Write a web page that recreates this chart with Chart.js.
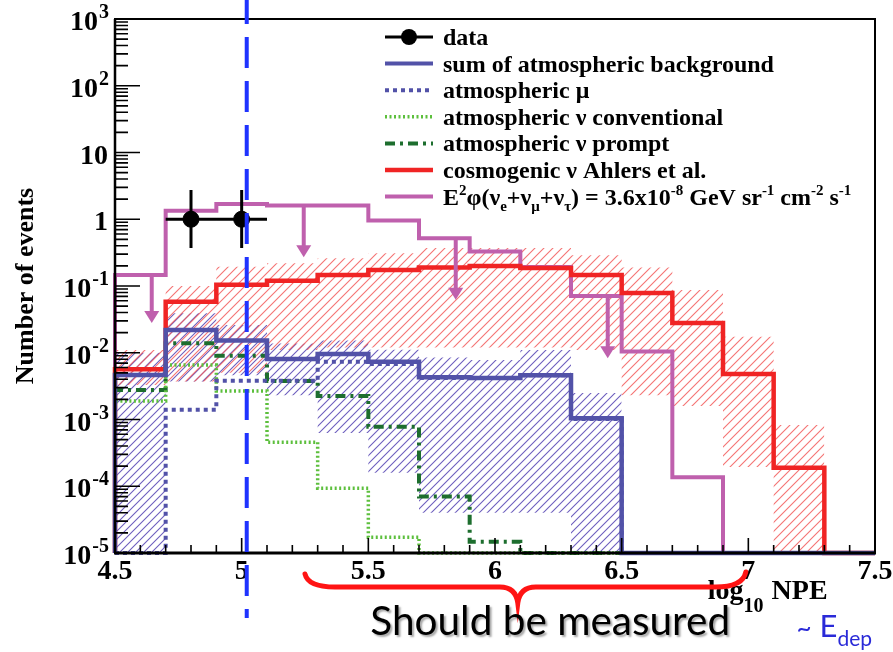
<!DOCTYPE html>
<html>
<head>
<meta charset="utf-8">
<title>Number of events vs log10 NPE</title>
<script src="https://cdn.jsdelivr.net/npm/chart.js@4.4.1/dist/chart.umd.min.js"></script>
<style>
  html, body { margin: 0; padding: 0; background: #ffffff; }
  canvas { display: block; }
</style>
</head>
<body>
<canvas id="npe" width="893" height="652"></canvas>
<script>
// ---- Histogram binning (log10 NPE) ----
const binEdges = [4.5, 4.7, 4.9, 5.1, 5.3, 5.5, 5.7, 5.9, 6.1, 6.3, 6.5, 6.7, 6.9, 7.1, 7.3, 7.5];

// ---- Expected events per bin (0 = empty bin, null = no band) ----
const signalFlux   = [0.146, 1.34, 1.69, 1.61, 1.61, 0.96, 0.52, 0.33, 0.193, 0.071, 0.0104, 1.36e-4, 0, 0, 0];
const cosmogenic   = [0.00565, 0.058, 0.104, 0.12, 0.146, 0.174, 0.19, 0.2, 0.186, 0.146, 0.0785, 0.028, 0.0048, 1.9e-4, 0];
const cosmoLow     = [0.0033, 0.0037, 0.005, 0.011, 0.012, 0.012, 0.012, 0.012, 0.012, 0.011, 0.0023, 0.0016, 1.95e-4, 0, null];
const cosmoHigh    = [0.011, 0.10, 0.195, 0.22, 0.26, 0.31, 0.37, 0.37, 0.37, 0.29, 0.19, 0.087, 0.0174, 8.3e-4, null];
const bgSum        = [0.00464, 0.0219, 0.0152, 0.00806, 0.00957, 0.00735, 0.0043, 0.0042, 0.0046, 0.00104, 0, 0, 0, 0, 0];
const bgLow        = [0, 0.0037, 0.0046, 0.0023, 6.3e-4, 1.6e-4, 4e-5, 4e-5, 4e-5, 0, null, null, null, null, null];
const bgHigh       = [0.01, 0.039, 0.026, 0.0137, 0.0152, 0.0111, 0.0085, 0.0078, 0.011, 0.0025, null, null, null, null, null];
const atmMuon      = [0, 0.0014, 0.0038, 0.0038, 0.0073, 0.0068, 0.0042, 0.0042, 0.0046, 0.00102, 0, 0, 0, 0, 0];
const atmNuConv    = [0.0019, 0.00655, 0.00267, 4.55e-4, 9.3e-5, 1.72e-5, 0, 0, 0, 0, 0, 0, 0, 0, 0];
const atmNuPrompt  = [0.00277, 0.0139, 0.00904, 0.00377, 0.00225, 7.8e-4, 7e-5, 1.48e-5, 0, 0, 0, 0, 0, 0, 0];

// ---- Observed events (Feldman-Cousins 68% intervals) ----
const dataX     = [4.8, 5.0];
const dataXErr  = [0.1, 0.1];
const dataY     = [1, 1];
const dataYLow  = [0.37, 0.37];
const dataYHigh = [2.75, 2.75];

// ---- Upper-limit arrows on the E^2 flux histogram ----
const arrowX    = [4.645, 5.245, 5.845, 6.445];
const arrowFrom = [0.146, 1.61, 0.52, 0.071];
const arrowTo   = [0.028, 0.27, 0.062, 0.0083];

// ---- Axis ranges and tick labels ----
const X_MIN = 4.5, X_MAX = 7.5;
const Y_MIN = 1e-5, Y_MAX = 1e3;
const xTickLabels = ['4.5', '5', '5.5', '6', '6.5', '7', '7.5'];
const yTickExponents = [-5, -4, -3, -2, -1, 0, 1, 2, 3];

// ---- Annotations ----
const thresholdNPE = 5.02;
const braceFrom = 5.25, braceTip = 6.09, braceTo = 6.99;
const braceText = 'Should be measured';

// ---- Legend text ----
const legendLabels = [
  'data',
  'sum of atmospheric background',
  'atmospheric \u03bc',
  'atmospheric \u03bd conventional',
  'atmospheric \u03bd prompt',
  'cosmogenic \u03bd Ahlers et al.'
];
// text runs: [text, 0 = normal, 1 = superscript, -1 = subscript]
const fluxLabelRuns = [
  ['E', 0], ['2', 1], ['\u03c6(\u03bd', 0], ['e', -1], ['+\u03bd', 0], ['\u03bc', -1], ['+\u03bd', 0], ['\u03c4', -1],
  [') = 3.6x10', 0], ['-8', 1], [' GeV sr', 0], ['-1', 1], [' cm', 0], ['-2', 1], [' s', 0], ['-1', 1]
];

// ---- Colours ----
const COL_SIGNAL = '#bf60ad';
const COL_COSMO  = '#f02424';
const COL_BG     = '#5252a8';
const COL_CONV   = '#5cbf3c';
const COL_PROMPT = '#1d6e2e';

const canvas = document.getElementById('npe');
const mainCtx = canvas.getContext('2d');

const SERIF = '"Liberation Serif", "Times New Roman", serif';
const SANS = 'Lato, "Open Sans", sans-serif';

function makeHatch(color, step, width) {
  const c = document.createElement('canvas');
  c.width = step; c.height = step;
  const g = c.getContext('2d');
  g.strokeStyle = color;
  g.lineWidth = width;
  g.beginPath();
  g.moveTo(-1, step + 1); g.lineTo(step + 1, -1);
  g.moveTo(-step / 2 - 1, step / 2 + 1); g.lineTo(step / 2 + 1, -step / 2 - 1);
  g.moveTo(step / 2 - 1, step * 1.5 + 1); g.lineTo(step * 1.5 + 1, step / 2 - 1);
  g.stroke();
  return mainCtx.createPattern(c, 'repeat');
}

// Turn per-bin values into histogram outline points (left/right edge of each bin)
function binPoints(values, startFromFloor) {
  const pts = [];
  if (startFromFloor) pts.push({ x: binEdges[0], y: Y_MIN });
  values.forEach((v, i) => {
    if (v === null) { pts.push({ x: binEdges[i], y: null }); return; }
    const y = v > 0 ? v : Y_MIN;
    pts.push({ x: binEdges[i], y: y }, { x: binEdges[i + 1], y: y });
  });
  return pts;
}

function histLine(label, values, color, width, dash, order) {
  return {
    label: label, data: binPoints(values, true),
    borderColor: color, borderWidth: width, borderDash: dash || [],
    borderCapStyle: 'butt', borderJoinStyle: 'miter',
    pointRadius: 0, fill: false, tension: 0, order: order, clip: 8
  };
}

function band(label, values, pattern, fillTarget, order) {
  return {
    label: label, data: binPoints(values, false),
    borderWidth: 0, borderColor: 'rgba(0,0,0,0)', pointRadius: 0, tension: 0,
    backgroundColor: pattern, fill: fillTarget, order: order
  };
}

const redHatch = makeHatch('rgba(242,90,90,0.85)', 9, 1.1);
const blueHatch = makeHatch('rgb(110,95,190)', 8, 1.1);

const datasets = [
  band('cosmogenic low', cosmoLow, redHatch, false, 30),
  band('cosmogenic high', cosmoHigh, redHatch, '-1', 30),
  band('background low', bgLow, blueHatch, false, 31),
  band('background high', bgHigh, blueHatch, '-1', 31),
  histLine('E2 flux', signalFlux, COL_SIGNAL, 4, [], 9),
  histLine('cosmogenic \u03bd Ahlers et al.', cosmogenic, COL_COSMO, 4.5, [], 8),
  histLine('atmospheric \u03bd prompt', atmNuPrompt, COL_PROMPT, 4, [10, 5, 3, 5], 7),
  histLine('atmospheric \u03bd conventional', atmNuConv, COL_CONV, 3.5, [2, 2.5], 6),
  histLine('atmospheric \u03bc', atmMuon, COL_BG, 4, [4, 4], 5),
  histLine('sum of atmospheric background', bgSum, COL_BG, 4.5, [], 4),
  {
    label: 'data', data: dataX.map((x, i) => ({ x: x, y: dataY[i] })),
    showLine: false, pointRadius: 8, pointBackgroundColor: '#000', pointBorderColor: '#000',
    order: 0
  }
];

function drawRuns(ctx, x, y, runs, size, scriptSize) {
  let cx = x;
  runs.forEach(([t, kind]) => {
    ctx.font = 'bold ' + (kind === 0 ? size : scriptSize) + 'px ' + SERIF;
    const dy = kind === 1 ? -size * 0.38 : (kind === -1 ? size * 0.28 : 0);
    ctx.fillText(t, cx, y + dy);
    cx += ctx.measureText(t).width;
  });
  return cx;
}

const frameAndAnnotations = {
  id: 'frameAndAnnotations',
  afterDatasetsDraw(chart) {
    const ctx = chart.ctx;
    const a = chart.chartArea;
    const xs = chart.scales.x, ys = chart.scales.y;
    ctx.save();

    // error bars on observed events
    ctx.strokeStyle = '#000'; ctx.lineWidth = 3;
    ctx.beginPath();
    dataX.forEach((x, i) => {
      const px = xs.getPixelForValue(x), py = ys.getPixelForValue(dataY[i]);
      ctx.moveTo(xs.getPixelForValue(x - dataXErr[i]), py);
      ctx.lineTo(xs.getPixelForValue(x + dataXErr[i]), py);
      ctx.moveTo(px, ys.getPixelForValue(dataYHigh[i]));
      ctx.lineTo(px, ys.getPixelForValue(dataYLow[i]));
    });
    ctx.stroke();

    // upper-limit arrows
    ctx.strokeStyle = COL_SIGNAL; ctx.fillStyle = COL_SIGNAL; ctx.lineWidth = 4;
    arrowX.forEach((x, i) => {
      const px = xs.getPixelForValue(x);
      const y0 = ys.getPixelForValue(arrowFrom[i]);
      const y1 = ys.getPixelForValue(arrowTo[i]);
      ctx.beginPath(); ctx.moveTo(px, y0); ctx.lineTo(px, y1 - 10); ctx.stroke();
      ctx.beginPath(); ctx.moveTo(px - 7.5, y1 - 12); ctx.lineTo(px + 7.5, y1 - 12); ctx.lineTo(px, y1); ctx.closePath(); ctx.fill();
    });

    // frame
    ctx.strokeStyle = '#000';
    ctx.lineWidth = 2;
    ctx.strokeRect(a.left, a.top, a.right - a.left, a.bottom - a.top);
    ctx.lineWidth = 3;
    ctx.beginPath(); ctx.moveTo(a.left - 1, a.bottom); ctx.lineTo(a.right + 1, a.bottom); ctx.stroke();
    ctx.lineWidth = 2.5;
    ctx.beginPath(); ctx.moveTo(a.left, a.top); ctx.lineTo(a.left, a.bottom); ctx.stroke();

    // y ticks (inside, decades and 2..9 minor)
    ctx.lineWidth = 1.6;
    ctx.beginPath();
    yTickExponents.forEach(e => {
      const p = ys.getPixelForValue(Math.pow(10, e));
      ctx.moveTo(a.left, p); ctx.lineTo(a.left + 25, p);
      if (e < yTickExponents[yTickExponents.length - 1]) {
        for (let m = 2; m <= 9; m++) {
          const q = ys.getPixelForValue(m * Math.pow(10, e));
          ctx.moveTo(a.left, q); ctx.lineTo(a.left + 13, q);
        }
      }
    });
    ctx.stroke();

    // x ticks (inside, every 0.1 with longer ones every 0.5)
    ctx.beginPath();
    for (let k = 1; k < Math.round((X_MAX - X_MIN) * 10); k++) {
      const v = X_MIN + k * 0.1;
      const p = xs.getPixelForValue(v);
      const len = (k % 5 === 0) ? 15 : 8;
      ctx.moveTo(p, a.bottom); ctx.lineTo(p, a.bottom - len);
    }
    ctx.stroke();

    // tick labels
    ctx.fillStyle = '#000';
    ctx.textBaseline = 'middle';
    ctx.textAlign = 'center';
    ctx.font = 'bold 28px ' + SERIF;
    xTickLabels.forEach(t => {
      const p = xs.getPixelForValue(parseFloat(t));
      ctx.fillText(t, p, a.bottom + 19);
    });
    yTickExponents.forEach(e => {
      const p = ys.getPixelForValue(Math.pow(10, e));
      const right = a.left - 7;
      ctx.textAlign = 'right';
      if (e === 0 || e === 1) {
        ctx.font = 'bold 28px ' + SERIF;
        ctx.fillText(e === 0 ? '1' : '10', right, p + 4);
      } else {
        const sup = String(e);
        ctx.font = 'bold 20px ' + SERIF;
        const w = ctx.measureText(sup).width;
        ctx.fillText(sup, right + 1, p - 6);
        ctx.font = 'bold 28px ' + SERIF;
        ctx.fillText('10', right - w, p + 4);
      }
    });

    // axis titles
    ctx.textAlign = 'left';
    ctx.textBaseline = 'alphabetic';
    let cx = xs.getPixelForValue(6.84);
    ctx.font = 'bold 28px ' + SERIF;
    ctx.fillText('log', cx, a.bottom + 46);
    cx += ctx.measureText('log').width;
    ctx.font = 'bold 20px ' + SERIF;
    ctx.fillText('10', cx, a.bottom + 59);
    cx += ctx.measureText('10').width + 8;
    ctx.font = 'bold 28px ' + SERIF;
    ctx.fillText('NPE', cx, a.bottom + 46);

    ctx.save();
    ctx.translate(33, (a.top + a.bottom) / 2);
    ctx.rotate(-Math.PI / 2);
    ctx.textAlign = 'center';
    ctx.font = 'bold 26px ' + SERIF;
    ctx.fillText('Number of events', 0, 0);
    ctx.restore();

    // legend
    const lx0 = a.left + 270, lx1 = a.left + 318, tx = a.left + 328;
    const rowY = i => a.top + 18 + i * 26.6;
    const samples = [
      { color: '#000', width: 3, dash: [], marker: true },
      { color: COL_BG, width: 4, dash: [] },
      { color: COL_BG, width: 4, dash: [4, 4] },
      { color: COL_CONV, width: 3.5, dash: [2, 2.5] },
      { color: COL_PROMPT, width: 4, dash: [10, 5, 3, 5] },
      { color: COL_COSMO, width: 4.5, dash: [] },
      { color: COL_SIGNAL, width: 4, dash: [] }
    ];
    samples.forEach((s, i) => {
      const y = rowY(i);
      ctx.strokeStyle = s.color; ctx.lineWidth = s.width; ctx.setLineDash(s.dash);
      ctx.beginPath(); ctx.moveTo(lx0, y); ctx.lineTo(lx1, y); ctx.stroke();
      ctx.setLineDash([]);
      if (s.marker) {
        ctx.fillStyle = '#000';
        ctx.beginPath(); ctx.arc((lx0 + lx1) / 2, y, 8, 0, Math.PI * 2); ctx.fill();
      }
    });
    ctx.fillStyle = '#000';
    ctx.font = 'bold 24px ' + SERIF;
    legendLabels.forEach((t, i) => ctx.fillText(t, tx, rowY(i) + 8));
    drawRuns(ctx, tx, rowY(6) + 8, fluxLabelRuns, 24, 15);

    ctx.restore();
  },
  afterDraw(chart) {
    const ctx = chart.ctx;
    const a = chart.chartArea;
    const xs = chart.scales.x;
    ctx.save();

    // threshold line
    const tx = xs.getPixelForValue(thresholdNPE);
    ctx.strokeStyle = '#1f33ff';
    ctx.lineWidth = 4;
    ctx.setLineDash([31, 13]);
    ctx.lineDashOffset = 7;
    ctx.beginPath(); ctx.moveTo(tx, 0); ctx.lineTo(tx, a.bottom + 65); ctx.stroke();
    ctx.setLineDash([]);

    // curly brace
    const xa = xs.getPixelForValue(braceFrom), xb = xs.getPixelForValue(braceTo), xt = xs.getPixelForValue(braceTip);
    const yEnd = a.bottom + 21, yMid = a.bottom + 34, yTip = a.bottom + 50;
    ctx.strokeStyle = '#ff1414';
    ctx.lineWidth = 5;
    ctx.lineCap = 'round';
    ctx.beginPath();
    ctx.moveTo(xa, yEnd);
    ctx.quadraticCurveTo(xa + 3, yMid, xa + 30, yMid);
    ctx.lineTo(xt - 18, yMid);
    ctx.quadraticCurveTo(xt - 2, yMid, xt, yTip);
    ctx.quadraticCurveTo(xt + 2, yMid, xt + 18, yMid);
    ctx.lineTo(xb - 30, yMid);
    ctx.quadraticCurveTo(xb - 3, yMid, xb, yEnd - 2);
    ctx.stroke();

    // caption under the brace
    ctx.font = '36px ' + SANS;
    const w = ctx.measureText(braceText).width;
    const size = 36 * 360 / w;
    ctx.font = size.toFixed(1) + 'px ' + SANS;
    ctx.shadowColor = 'rgba(0,0,0,0.35)';
    ctx.shadowOffsetX = 2; ctx.shadowOffsetY = 2; ctx.shadowBlur = 2;
    ctx.fillStyle = '#000';
    ctx.textAlign = 'left';
    ctx.textBaseline = 'alphabetic';
    ctx.fillText(braceText, xs.getPixelForValue(5.5) + 2, a.bottom + 82);
    ctx.shadowColor = 'rgba(0,0,0,0)';

    // deposited-energy note
    ctx.fillStyle = '#2a2ad8';
    let ex = xs.getPixelForValue(7.19);
    ctx.font = '26px ' + SANS;
    ctx.fillText('~', ex, a.bottom + 84);
    ex += ctx.measureText('~').width + 8;
    ctx.font = '31px ' + SANS;
    ctx.fillText('E', ex, a.bottom + 84);
    ex += ctx.measureText('E').width;
    ctx.font = '21px ' + SANS;
    ctx.fillText('dep', ex, a.bottom + 93);

    ctx.restore();
  }
};

new Chart(canvas, {
  type: 'line',
  data: { datasets: datasets },
  options: {
    responsive: false,
    animation: false,
    events: [],
    layout: { padding: { left: 115, right: 18, top: 19, bottom: 99 } },
    scales: {
      x: { type: 'linear', min: X_MIN, max: X_MAX, display: false },
      y: { type: 'logarithmic', min: Y_MIN, max: Y_MAX, display: false }
    },
    plugins: {
      legend: { display: false },
      tooltip: { enabled: false },
      filler: { propagate: false, drawTime: 'beforeDatasetsDraw' }
    }
  },
  plugins: [frameAndAnnotations]
});
</script>
</body>
</html>
